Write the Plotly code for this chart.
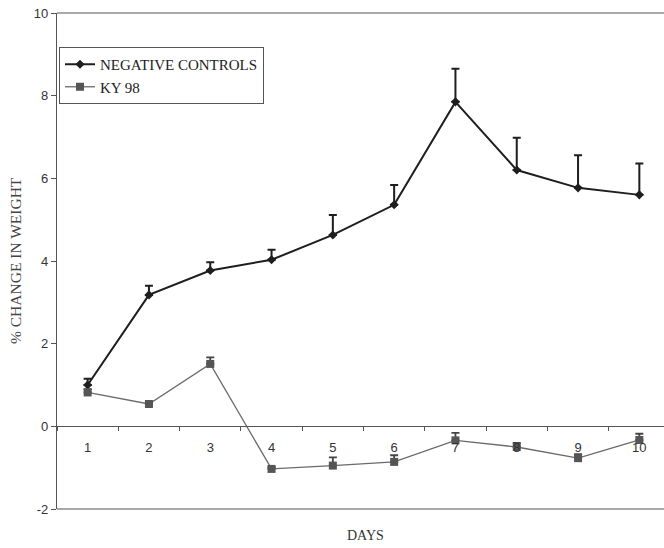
import plotly.graph_objects as go

# Daily % change in body weight, days 1-10
days = [1, 2, 3, 4, 5, 6, 7, 8, 9, 10]

neg_controls = [1.00, 3.18, 3.77, 4.03, 4.63, 5.36, 7.85, 6.20, 5.77, 5.60]
neg_controls_err = [0.15, 0.22, 0.20, 0.24, 0.48, 0.48, 0.80, 0.78, 0.79, 0.76]

ky98 = [0.82, 0.54, 1.51, -1.03, -0.95, -0.86, -0.34, -0.50, -0.77, -0.33]
ky98_err = [0.08, 0.05, 0.16, 0.04, 0.20, 0.16, 0.18, 0.10, 0.10, 0.15]

y_ticks = [-2, 0, 2, 4, 6, 8, 10]
y_tick_text = ["-2", "0", "2", "4", "6", "8", "10"]

W, H = 664, 548
M_L, M_R, M_T, M_B = 57, 0, 13, 39
plot_w = W - M_L - M_R
plot_h = H - M_T - M_B
y_range = [-2, 10]
zero_pos = (0 - y_range[0]) / (y_range[1] - y_range[0])

serif = "Liberation Serif, Times New Roman, serif"
sans = "Liberation Sans, Arial, sans-serif"

fig = go.Figure()

fig.add_trace(go.Scatter(
    x=days, y=neg_controls, name="NEGATIVE CONTROLS",
    mode="lines+markers",
    line=dict(color="#1e1e1e", width=2),
    marker=dict(symbol="diamond", size=7, color="#1e1e1e"),
    error_y=dict(type="data", symmetric=False, array=neg_controls_err,
                 arrayminus=[0] * len(days), color="#1e1e1e",
                 thickness=2, width=4),
))

fig.add_trace(go.Scatter(
    x=days, y=ky98, name="KY 98",
    mode="lines+markers",
    line=dict(color="#6a6a6a", width=1.3),
    marker=dict(symbol="square", size=8, color="#555555"),
    error_y=dict(type="data", symmetric=False, array=ky98_err,
                 arrayminus=[0] * len(days), color="#444444",
                 thickness=1.8, width=4),
))

# frame lines at top and bottom of the plotting area
for yy in (0, 1):
    fig.add_shape(type="line", xref="paper", yref="paper",
                  x0=0, x1=1, y0=yy, y1=yy,
                  line=dict(color="#555555", width=1.2))

fig.add_annotation(text="DAYS", xref="paper", yref="paper",
                   x=(365 - M_L) / plot_w, y=-26 / plot_h,
                   xanchor="center", yanchor="middle", showarrow=False,
                   font=dict(family=serif, size=14, color="#333333"))

fig.add_annotation(text="% CHANGE IN WEIGHT", xref="paper", yref="paper",
                   x=(15 - M_L) / plot_w, y=0.5, textangle=-90,
                   xanchor="center", yanchor="middle", showarrow=False,
                   font=dict(family=serif, size=15.5, color="#444444"))

fig.update_layout(
    width=W, height=H,
    margin=dict(l=M_L, r=M_R, t=M_T, b=M_B, pad=0),
    paper_bgcolor="white", plot_bgcolor="white",
    showlegend=True,
    legend=dict(
        x=2 / plot_w, y=(plot_h - (47 - M_T)) / plot_h,
        xanchor="left", yanchor="top",
        bgcolor="white", bordercolor="#555555", borderwidth=1,
        font=dict(family=serif, size=15, color="#222222"),
        tracegroupgap=0, itemwidth=30,
    ),
    xaxis=dict(
        range=[0.5, 0.5 + plot_w / 61.3],
        anchor="free", position=zero_pos,
        showline=True, linecolor="#555555", linewidth=1.2,
        showgrid=False, zeroline=False,
        tickmode="array", tickvals=days, ticktext=[str(d) for d in days],
        ticks="", ticklen=0, ticklabelstandoff=9,
        tickfont=dict(family=sans, size=13, color="#333333"),
        minor=dict(tickmode="linear", tick0=0.5, dtick=1,
                   ticks="outside", ticklen=4, tickcolor="#555555",
                   showgrid=False),
        fixedrange=True,
    ),
    yaxis=dict(
        range=y_range,
        showline=True, linecolor="#555555", linewidth=1.2,
        showgrid=False, zeroline=False,
        tickmode="array", tickvals=y_ticks, ticktext=y_tick_text,
        ticks="outside", ticklen=5, tickcolor="#555555",
        tickfont=dict(family=sans, size=13, color="#333333"),
        fixedrange=True,
    ),
)

fig.write_html("out.html")
